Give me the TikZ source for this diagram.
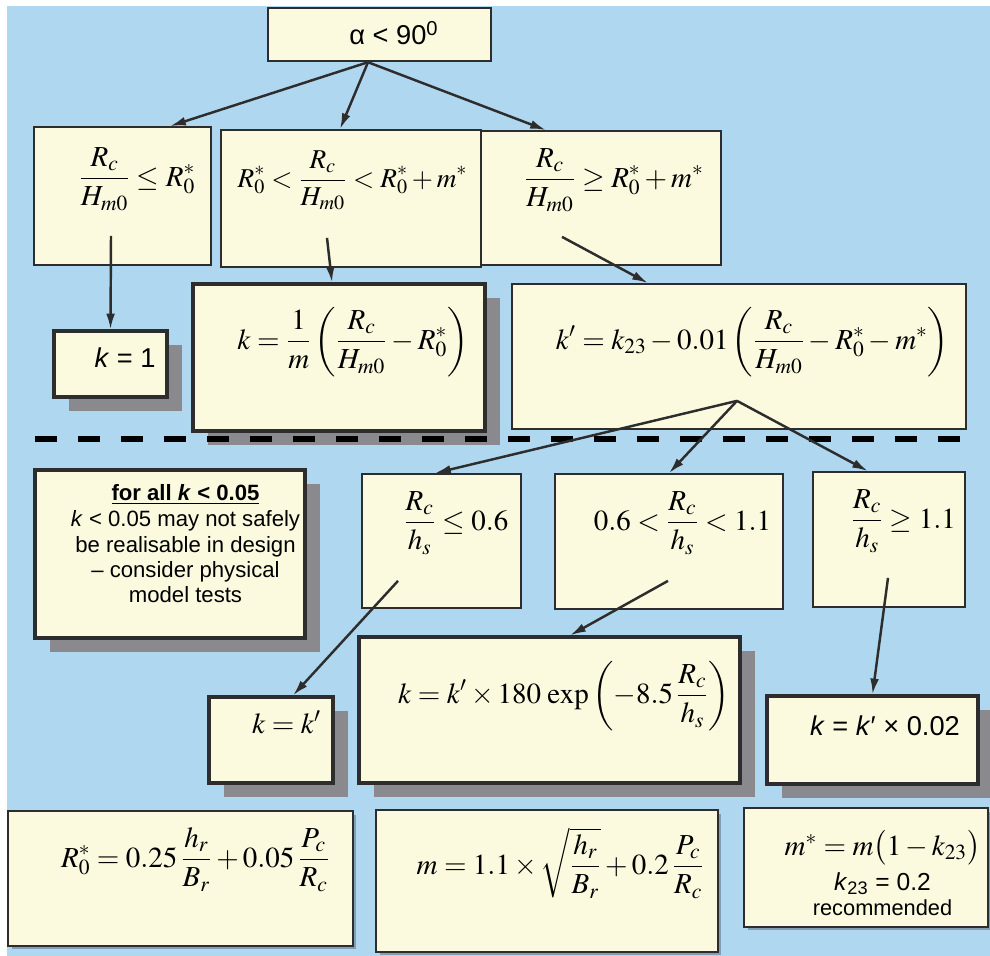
\documentclass[tikz,border=0pt]{standalone}
\usepackage{mathptmx}
\usepackage{fontspec}
\setmainfont{Liberation Serif}
\setsansfont{Liberation Sans}
\usepackage{tikz}
\usetikzlibrary{arrows.meta, shadows}
\definecolor{skyblue}{RGB}{176,215,240}
\definecolor{cream}{RGB}{252,250,222}
\definecolor{boxline}{RGB}{45,45,45}
\definecolor{shadegray}{RGB}{138,138,142}
\definecolor{softshade}{RGB}{130,158,180}
% text placed at an offset from the box centre
\newcommand{\boxtext}[3]{\raisebox{#2}[0pt][0pt]{\makebox[0pt]{\hspace*{#1}\hspace*{#1}#3}}}
\newcommand{\eqfont}{\fontsize{16.5}{19}\selectfont}
\newcommand{\txtfont}{\sffamily\fontsize{15.5}{18}\selectfont}
\newcommand{\notefont}{\sffamily\fontsize{12.6}{14.5}\selectfont}
\tikzset{
  cond/.style={rectangle, draw=boxline, fill=cream, line width=1pt, inner sep=0pt},
  result/.style={cond, line width=1.8pt,
    drop shadow={shadow xshift=0.3cm, shadow yshift=-0.28cm, fill=shadegray, opacity=1}},
  given/.style={cond,
    drop shadow={shadow xshift=0.07cm, shadow yshift=-0.07cm, fill=softshade, opacity=1}},
  arrow/.style={-{Latex[length=9pt,width=5pt]}, line width=1.4pt, color=boxline},
  cutline/.style={line width=3.4pt, dash pattern=on 0.44cm off 0.42cm, color=black}
}

\begin{document}
\begin{tikzpicture}[x=0.02cm, y=-0.02cm]
  \useasboundingbox (0,0) rectangle (990,956);
  \fill[white] (0,0) rectangle (990,956);
  \fill[skyblue] (7,6) rectangle (990,956);

  % upper half
  \node[cond, line width=1.4pt, minimum width=4.46cm, minimum height=1.06cm] (alpha) at (379.5,34.5)
    {\boxtext{0.29cm}{-0.21cm}{\txtfont α < 90\textsuperscript{0}}};
  \node[cond, minimum width=3.54cm, minimum height=2.76cm] (lowc) at (122.5,196)
    {\boxtext{0.29cm}{0.2cm}{\eqfont$\displaystyle \frac{R_c}{H_{m0}} \le R_0^*$}};
  \node[cond, minimum width=5.2cm, minimum height=2.74cm] (midc) at (351,198.5)
    {\boxtext{0.03cm}{0.23cm}{\fontsize{15.5}{18}\selectfont$\displaystyle R_0^* < \frac{R_c}{H_{m0}} < R_0^* + m^*$}};
  \node[cond, minimum width=4.8cm, minimum height=2.68cm] (highc) at (601,198)
    {\boxtext{0.26cm}{0.22cm}{\eqfont$\displaystyle \frac{R_c}{H_{m0}} \ge R_0^* + m^*$}};
  \node[result, minimum width=2.26cm, minimum height=1.32cm] (kone) at (110.5,364)
    {\boxtext{0.29cm}{-0.06cm}{\txtfont\textit{k} = 1}};
  \node[result, minimum width=5.84cm, minimum height=2.94cm] (klin) at (339,357.5)
    {\boxtext{0.28cm}{0.17cm}{\eqfont$\displaystyle k = \frac{1}{m}\left(\frac{R_c}{H_{m0}} - R_0^*\right)$}};
  \node[cond, minimum width=9.08cm, minimum height=2.9cm] (kpr) at (739,356.5)
    {\boxtext{0.27cm}{0.15cm}{\eqfont$\displaystyle k' = k_{23} - 0.01\left(\frac{R_c}{H_{m0}} - R_0^* - m^*\right)$}};

  % lower half
  \node[result, minimum width=5.4cm, minimum height=3.36cm] (note) at (170,554)
    {\boxtext{0.31cm}{1.07cm}{\notefont\underline{\textbf{for all \textit{k} < 0.05}}}%
     \boxtext{0.31cm}{0.55cm}{\notefont\textit{k} < 0.05 may not safely}%
     \boxtext{0.31cm}{0.04cm}{\notefont be realisable in design}%
     \boxtext{0.31cm}{-0.47cm}{\notefont\textendash{} consider physical}%
     \boxtext{0.31cm}{-0.98cm}{\notefont model tests}};
  \node[cond, minimum width=3.18cm, minimum height=2.68cm] (hsa) at (441.5,541)
    {\boxtext{0.29cm}{0.22cm}{\eqfont$\displaystyle \frac{R_c}{h_s} \le 0.6$}};
  \node[cond, minimum width=4.56cm, minimum height=2.7cm] (hsb) at (669,541.5)
    {\boxtext{0.27cm}{0.23cm}{\eqfont$\displaystyle 0.6 < \frac{R_c}{h_s} < 1.1$}};
  \node[cond, minimum width=3.04cm, minimum height=2.7cm] (hsc) at (889,539.5)
    {\boxtext{0.29cm}{0.23cm}{\eqfont$\displaystyle \frac{R_c}{h_s} \ge 1.1$}};
  \node[result, minimum width=2.48cm, minimum height=1.72cm] (kkp) at (271,740)
    {\boxtext{0.31cm}{0.14cm}{\eqfont$k = k'$}};
  \node[result, minimum width=7.62cm, minimum height=2.92cm] (kexp) at (549.5,710)
    {\boxtext{0.29cm}{0.14cm}{\eqfont$\displaystyle k = k' \times 180\,\exp\left(-8.5\,\frac{R_c}{h_s}\right)$}};
  \node[result, minimum width=4.22cm, minimum height=1.76cm] (kfix) at (872.5,740)
    {\boxtext{0.25cm}{0.1cm}{\txtfont\textit{k} = \textit{k}′ × 0.02}};

  % definitions
  \node[given, minimum width=6.9cm, minimum height=2.7cm] (rzero) at (180.5,878.5)
    {\boxtext{0.3cm}{0.23cm}{\eqfont$\displaystyle R_0^* = 0.25\,\frac{h_r}{B_r} + 0.05\,\frac{P_c}{R_c}$}};
  \node[given, minimum width=6.84cm, minimum height=2.84cm] (mdef) at (547,881)
    {\boxtext{0.27cm}{0.14cm}{\eqfont$\displaystyle m = 1.1\times\sqrt{\frac{h_r}{B_r}} + 0.2\,\frac{P_c}{R_c}$}};
  \node[given, minimum width=4.88cm, minimum height=2.38cm] (mstar) at (866,867.5)
    {\boxtext{0.33cm}{0.25cm}{\eqfont$m^* = m\bigl(1 - k_{23}\bigr)$}%
     \boxtext{0.33cm}{-0.45cm}{\sffamily\fontsize{14}{16}\selectfont\textit{k}\textsubscript{23} = 0.2}%
     \boxtext{0.33cm}{-0.95cm}{\sffamily\fontsize{12.4}{14}\selectfont recommended}};

  \coordinate (cutl) at (35,439);
  \coordinate (cutr) at (965,439);
  \draw[cutline] (cutl) -- (cutr);

  % connectors
  \draw[arrow] ([xshift=-0.23cm]alpha.south) -- ([xshift=0.95cm]lowc.north);
  \draw[arrow] ([xshift=-0.23cm]alpha.south) -- ([xshift=-0.22cm]midc.north);
  \draw[arrow] ([xshift=-0.23cm]alpha.south) -- ([xshift=-1.1cm]highc.north);
  \draw[arrow] ([xshift=-0.23cm,yshift=0.6cm]lowc.south) -- (kone.north);
  \draw[arrow] ([xshift=-0.48cm,yshift=0.6cm]midc.south) -- ([xshift=-0.14cm]klin.north);
  \draw[arrow] ([xshift=-0.78cm,yshift=0.58cm]highc.south) -- ([xshift=-1.82cm]kpr.north);
  \draw[arrow] ([xshift=-0.04cm,yshift=0.58cm]kpr.south) -- ([xshift=-0.13cm]hsa.north);
  \draw[arrow] ([xshift=-0.04cm,yshift=0.58cm]kpr.south) -- (hsb.north);
  \draw[arrow] ([xshift=-0.04cm,yshift=0.58cm]kpr.south) -- ([xshift=-0.42cm]hsc.north);
  \draw[arrow] ([xshift=-0.87cm,yshift=0.56cm]hsa.south) -- ([xshift=0.44cm]kkp.north);
  \draw[arrow] ([xshift=-0.02cm,yshift=0.58cm]hsb.south) -- ([xshift=0.41cm]kexp.north);
  \draw[arrow] ([xshift=-0.02cm,yshift=0.6cm]hsc.south) -- (kfix.north);
\end{tikzpicture}
\end{document}
